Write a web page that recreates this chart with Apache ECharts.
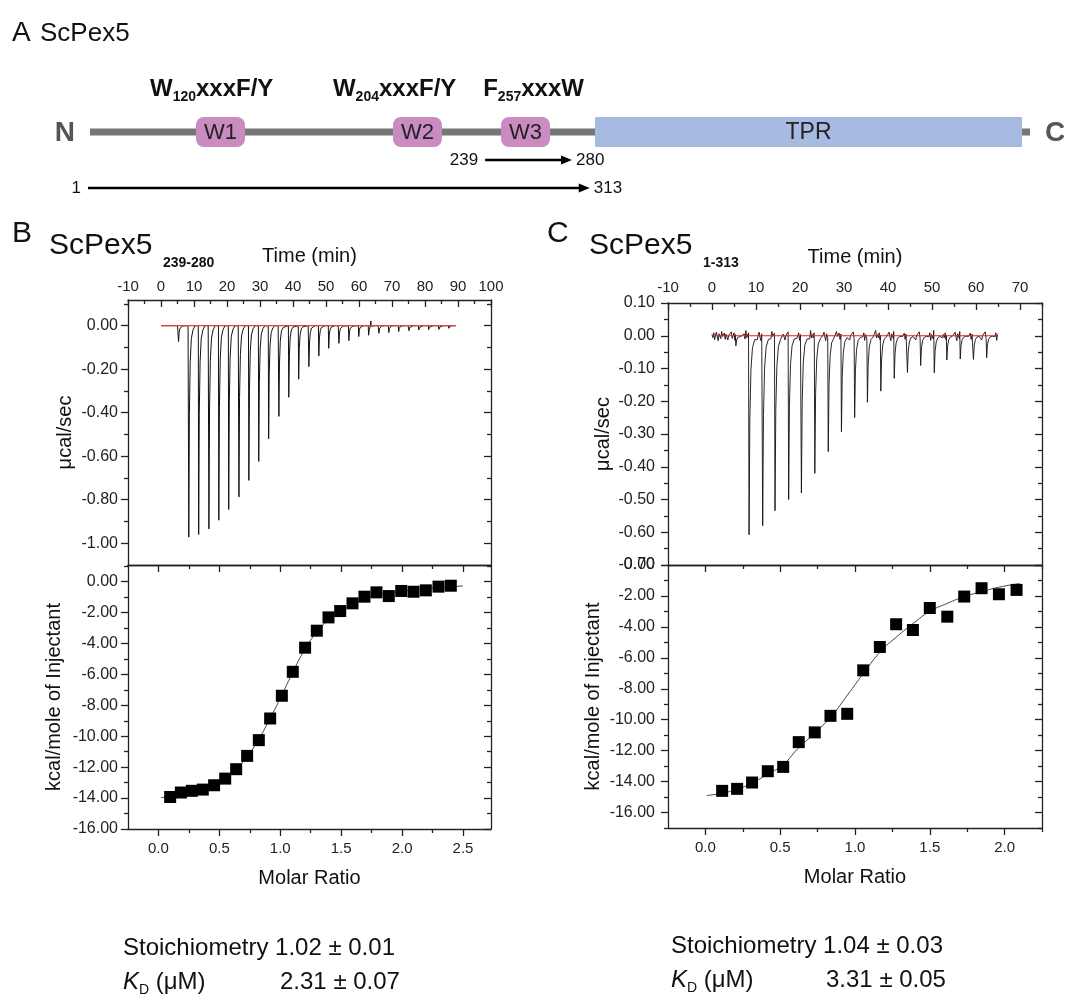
<!DOCTYPE html>
<html>
<head>
<meta charset="utf-8">
<script src="https://cdn.jsdelivr.net/npm/echarts@6/dist/echarts.min.js"></script>
<style>
html, body { margin: 0; padding: 0; background: #fff; }
#main { width: 1066px; height: 996px; }
</style>
</head>
<body>
<div id="main"></div>
<script>
// ---- panel A: schematic of ScPex5 (positions in % of the drawn chain) ----
var chainSpan = [1.04, 98.96];
var domainNames = ['W1', 'W2', 'W3', 'TPR'];
var domainStart = [12.08, 32.6, 43.85, 53.65];
var domainEnd = [17.19, 37.7, 48.96, 98.13];
var motifHead = ['W', 'W', 'F'];
var motifSub = ['120', '204', '257'];
var motifTail = ['xxxF/Y', 'xxxF/Y', 'xxxW'];
var motifAt = [7.29, 26.35, 42.0];
var fragFrom = [42.2, 0.83];
var fragTo = [51.25, 53.1];
var fragFromLabel = ['239', '1'];
var fragToLabel = ['280', '313'];

// ---- panel B: ScPex5 239-280 ----
var injTimeB = [5.2, 8.3, 11.3, 14.4, 17.4, 20.4, 23.5, 26.5, 29.5, 32.5, 35.6, 38.6, 41.6, 44.7,
  47.7, 50.7, 53.8, 56.8, 59.8, 62.8, 65.9, 68.9, 71.9, 75.0, 78.0, 81.0, 84.1, 87.1];
var injPeakB = [-0.073, -0.972, -0.960, -0.934, -0.894, -0.845, -0.787, -0.711, -0.624, -0.520, -0.417,
  -0.329, -0.246, -0.188, -0.139, -0.104, -0.081, -0.069, -0.050, -0.044, -0.035, -0.032, -0.027,
  -0.023, -0.020, -0.018, -0.017, -0.012];
var baselineB = [0, 89.4];
var blipB = [63.6, 0.022];
var ratioB = [0.096, 0.184, 0.274, 0.364, 0.457, 0.548, 0.638, 0.728, 0.824, 0.917, 1.013, 1.103, 1.204,
  1.300, 1.396, 1.492, 1.593, 1.691, 1.790, 1.891, 1.993, 2.094, 2.195, 2.299, 2.400];
var heatB = [-13.93, -13.64, -13.53, -13.45, -13.17, -12.74, -12.13, -11.27, -10.25, -8.85, -7.38, -5.83,
  -4.27, -3.17, -2.31, -1.90, -1.40, -0.97, -0.69, -0.93, -0.60, -0.65, -0.56, -0.32, -0.26];
var fitXB = [0.02, 0.1, 0.2, 0.3, 0.4, 0.5, 0.6, 0.7, 0.8, 0.9, 1.0, 1.1, 1.2, 1.3, 1.4, 1.5, 1.6, 1.7,
  1.8, 1.9, 2.0, 2.2, 2.5];
var fitYB = [-13.97, -13.88, -13.72, -13.5, -13.25, -12.95, -12.45, -11.6, -10.5, -9.1, -7.55, -5.9, -4.4,
  -3.25, -2.45, -1.9, -1.48, -1.1, -0.85, -0.72, -0.62, -0.46, -0.27];

// ---- panel C: ScPex5 1-313 ----
var injTimeC = [5.3, 8.3, 11.4, 14.2, 17.3, 20.2, 23.25, 26.3, 29.3, 32.3, 35.2, 38.25, 41.3, 44.3,
  47.3, 50.4, 53.25, 56.3, 59.3, 62.3];
var injPeakC = [-0.031, -0.608, -0.580, -0.534, -0.500, -0.480, -0.420, -0.354, -0.293, -0.250, -0.203,
  -0.169, -0.130, -0.112, -0.091, -0.113, -0.074, -0.071, -0.072, -0.067];
var baselineC = [0, 65];
var noiseC = [0.004, -0.006, 0.009, -0.012, 0.002, 0.011, -0.004, -0.015, 0.006, 0.003, -0.009, 0.013,
  -0.002, -0.007, 0.008, -0.011, 0.005, 0.010, -0.013, 0.001, 0.007, -0.005, 0.012, -0.008, -0.003,
  0.009, -0.014, 0.004, 0.006, -0.010, 0.016, -0.006];
var ratioC = [0.112, 0.212, 0.312, 0.417, 0.520, 0.624, 0.731, 0.836, 0.948, 1.055, 1.166, 1.275, 1.387,
  1.500, 1.617, 1.730, 1.846, 1.962, 2.080];
var heatC = [-14.60, -14.47, -14.06, -13.33, -13.05, -11.45, -10.82, -9.75, -9.62, -6.81, -5.30, -3.83,
  -4.20, -2.78, -3.34, -2.04, -1.50, -1.89, -1.61];
var fitXC = [0.01, 0.11, 0.21, 0.31, 0.42, 0.52, 0.62, 0.73, 0.84, 0.95, 1.06, 1.17, 1.28, 1.39, 1.5,
  1.62, 1.73, 1.85, 1.96, 2.1];
var fitYC = [-14.9, -14.75, -14.5, -14.1, -13.5, -12.9, -11.85, -10.87, -9.8, -8.4, -6.96, -5.6, -4.63,
  -3.77, -3.0, -2.47, -2.04, -1.72, -1.44, -1.2];

// ---- tick labels ----
var timeTicksB = [-10, 0, 10, 20, 30, 40, 50, 60, 70, 80, 90, 100];
var timeTicksC = [-10, 0, 10, 20, 30, 40, 50, 60, 70];
var powerTicksB = [0, -0.2, -0.4, -0.6, -0.8, -1.0];
var powerTicksC = [0.1, 0, -0.1, -0.2, -0.3, -0.4, -0.5, -0.6, -0.7];
var heatTicks = [0, -2, -4, -6, -8, -10, -12, -14, -16];
var ratioTicksB = [0, 0.5, 1.0, 1.5, 2.0, 2.5];
var ratioTicksC = [0, 0.5, 1.0, 1.5, 2.0];

var FONT = '"Liberation Sans", Arial, sans-serif';
var AX = '#222';

function mids(arr, step) {
  var out = [];
  arr.forEach(function (v) { out.push(+(v + step).toFixed(4)); });
  return out;
}
function zip(a, b) { return a.map(function (v, i) { return [v, b[i]]; }); }

// spike profile: minutes after injection, fraction of the peak depth
var spikeShape = [[0, 0], [0.12, 1], [0.3, 0.42], [0.55, 0.17], [0.9, 0.06], [1.4, 0.02], [2.0, 0]];
function buildTrace(t0, t1, times, peaks, noise, step) {
  var pts = [], n = 0, t = t0;
  function base() { return noise ? noise[n++ % noise.length] : 0; }
  for (var i = 0; i <= times.length; i++) {
    var next = i < times.length ? times[i] : t1;
    while (t < next) { pts.push([t, base()]); t += step; }
    if (i < times.length) {
      spikeShape.forEach(function (s) {
        pts.push([times[i] + s[0], peaks[i] * s[1] + (s[1] === 0 ? base() : 0)]);
      });
      t = times[i] + spikeShape[spikeShape.length - 1][0] + step;
    }
  }
  pts.push([t1, base()]);
  return pts;
}

var traceB = buildTrace(baselineB[0], baselineB[1], injTimeB, injPeakB, null, 1);
traceB.push([blipB[0] - 0.1, 0], blipB, [blipB[0] + 0.3, 0]);
traceB.sort(function (a, b) { return a[0] - b[0]; });
var traceC = buildTrace(baselineC[0], baselineC[1], injTimeC, injPeakC, noiseC, 0.2);

var xAxes = [], yAxes = [];
function addAxis(list, grid, pos, range, o) {
  o = o || {};
  var common = {
    type: 'value', gridIndex: grid, position: pos, min: range[0], max: range[1],
    splitLine: { show: false }, axisPointer: { show: false }
  };
  var idx = list.length;
  list.push(Object.assign({}, common, {
    axisLine: { show: true, onZero: false, lineStyle: { color: AX, width: 1.3 } },
    axisTick: o.major ? { show: true, inside: !!o.inside, length: 7, customValues: o.major,
      lineStyle: { color: AX, width: 1.3 } } : { show: false },
    axisLabel: o.labels ? { show: true, customValues: o.labels, margin: o.margin, formatter: o.fmt,
      fontSize: o.size || 15, fontFamily: FONT, color: AX, showMinLabel: true, showMaxLabel: true } : { show: false },
    name: o.name || '', nameLocation: 'middle', nameGap: o.nameGap || 0,
    nameTextStyle: { fontSize: 20, fontFamily: FONT, color: '#111' }
  }));
  if (o.minor) {
    list.push(Object.assign({}, common, {
      axisLine: { show: false, onZero: false },
      axisLabel: { show: false },
      axisTick: { show: true, inside: !!o.inside, length: 4, customValues: o.minor,
        lineStyle: { color: AX, width: 1.3 } }
    }));
  }
  return idx;
}
var f0 = function (v) { return String(v); };
var f1 = function (v) { return v.toFixed(1); };
var f2 = function (v) { return v.toFixed(2); };

// B top: thermogram
var rBt = { x: [-10, 100], y: [-1.1, 0.118] };
var bxT = addAxis(xAxes, 0, 'top', rBt.x, { labels: timeTicksB, major: timeTicksB, minor: mids(timeTicksB, 5),
  inside: true, margin: 6, fmt: f0, name: 'Time (min)', nameGap: 34 });
addAxis(xAxes, 0, 'bottom', rBt.x, {});
var byT = addAxis(yAxes, 0, 'left', rBt.y, { labels: powerTicksB, major: powerTicksB, minor: mids(powerTicksB, 0.1),
  margin: 10, fmt: f2, size: 16, name: 'μcal/sec', nameGap: 53 });
addAxis(yAxes, 0, 'right', rBt.y, { major: powerTicksB, minor: mids(powerTicksB, 0.1), inside: true });

// B bottom: isotherm
var rBb = { x: [-0.25, 2.73], y: [-16, 1.08] };
addAxis(xAxes, 1, 'top', rBb.x, { major: ratioTicksB, minor: mids(ratioTicksB, 0.25), inside: true });
var bxB = addAxis(xAxes, 1, 'bottom', rBb.x, { labels: ratioTicksB, major: ratioTicksB, minor: mids(ratioTicksB, 0.25),
  margin: 12, fmt: f1, name: 'Molar Ratio', nameGap: 39 });
var byB = addAxis(yAxes, 1, 'left', rBb.y, { labels: heatTicks, major: heatTicks, minor: mids(heatTicks, 1),
  margin: 10, fmt: f2, size: 16, name: 'kcal/mole of Injectant', nameGap: 64 });
addAxis(yAxes, 1, 'right', rBb.y, { major: heatTicks, minor: mids(heatTicks, 1), inside: true });

// C top: thermogram
var rCt = { x: [-10, 75], y: [-0.7, 0.1] };
var cxT = addAxis(xAxes, 2, 'top', rCt.x, { labels: timeTicksC, major: timeTicksC, minor: mids(timeTicksC, 5),
  inside: true, margin: 8, fmt: f0, name: 'Time (min)', nameGap: 36 });
addAxis(xAxes, 2, 'bottom', rCt.x, {});
var cyT = addAxis(yAxes, 2, 'left', rCt.y, { labels: powerTicksC, major: powerTicksC, minor: mids(powerTicksC, -0.05),
  margin: 13, fmt: f2, size: 16, name: 'μcal/sec', nameGap: 55 });
addAxis(yAxes, 2, 'right', rCt.y, { major: powerTicksC, minor: mids(powerTicksC, -0.05), inside: true });

// C bottom: isotherm
var rCb = { x: [-0.25, 2.25], y: [-17, 0] };
addAxis(xAxes, 3, 'top', rCb.x, { major: ratioTicksC, minor: mids(ratioTicksC, 0.25), inside: true });
var cxB = addAxis(xAxes, 3, 'bottom', rCb.x, { labels: ratioTicksC, major: ratioTicksC, minor: mids(ratioTicksC, 0.25),
  margin: 12, fmt: f1, name: 'Molar Ratio', nameGap: 39 });
var cyB = addAxis(yAxes, 3, 'left', rCb.y, { labels: heatTicks, major: heatTicks, minor: mids(heatTicks, -1),
  margin: 13, fmt: f2, size: 16, name: 'kcal/mole of Injectant', nameGap: 65 });
addAxis(yAxes, 3, 'right', rCb.y, { major: heatTicks, minor: mids(heatTicks, -1), inside: true });

// panel A frame (hidden axes)
var axA = xAxes.length;
xAxes.push({ type: 'value', gridIndex: 4, min: 0, max: 100, show: false });
var ayA = yAxes.length;
yAxes.push({ type: 'value', gridIndex: 4, min: 60, max: 200, inverse: true, show: false });

var ROW_LABEL = 89, ROW_CHAIN = 132, ROW_FRAG = [160, 188];

function txt(x, y, text, size, extra) {
  return Object.assign({
    type: 'text', x: x, y: y,
    style: Object.assign({ text: text, fontSize: size, fontFamily: FONT, fill: '#111',
      align: 'left', verticalAlign: 'middle', textAlign: 'left', textVerticalAlign: 'middle' }, extra || {})
  });
}
function kdText(x, y) {
  return {
    type: 'text', x: x, y: y,
    style: {
      text: '{k|K}{d|D}{n| (μM)}', align: 'left', verticalAlign: 'middle',
      textAlign: 'left', textVerticalAlign: 'middle',
      rich: {
        k: { fontSize: 24, fontStyle: 'italic', fontFamily: FONT, fill: '#111', lineHeight: 28 },
        d: { fontSize: 14, fontFamily: FONT, fill: '#111', lineHeight: 14, padding: [16, 0, 0, 0] },
        n: { fontSize: 24, fontFamily: FONT, fill: '#111', lineHeight: 28 }
      }
    }
  };
}

var series = [
  { type: 'line', xAxisIndex: bxT, yAxisIndex: byT, data: traceB, symbol: 'none', silent: true,
    lineStyle: { color: '#111', width: 1 }, z: 2 },
  { type: 'line', xAxisIndex: bxT, yAxisIndex: byT, data: [[baselineB[0], 0], [baselineB[1], 0]],
    symbol: 'none', silent: true, lineStyle: { color: '#e0413a', width: 1.2 }, z: 3 },
  { type: 'line', xAxisIndex: bxB, yAxisIndex: byB, data: zip(fitXB, fitYB), smooth: true, symbol: 'none',
    silent: true, lineStyle: { color: '#444', width: 1 }, z: 3 },
  { type: 'scatter', xAxisIndex: bxB, yAxisIndex: byB, data: zip(ratioB, heatB), symbol: 'rect',
    symbolSize: 12, itemStyle: { color: '#000', opacity: 1 }, z: 4 },
  { type: 'line', xAxisIndex: cxT, yAxisIndex: cyT, data: traceC, symbol: 'none', silent: true,
    lineStyle: { color: '#111', width: 0.9 }, z: 2 },
  { type: 'line', xAxisIndex: cxT, yAxisIndex: cyT, data: [[baselineC[0], 0], [baselineC[1], 0]],
    symbol: 'none', silent: true, lineStyle: { color: '#e0201c', width: 1.2 }, z: 3 },
  { type: 'line', xAxisIndex: cxB, yAxisIndex: cyB, data: zip(fitXC, fitYC), smooth: true, symbol: 'none',
    silent: true, lineStyle: { color: '#444', width: 1 }, z: 3 },
  { type: 'scatter', xAxisIndex: cxB, yAxisIndex: cyB, data: zip(ratioC, heatC), symbol: 'rect',
    symbolSize: 12, itemStyle: { color: '#000', opacity: 1 }, z: 4 },

  // panel A: chain with N / C ends
  { type: 'custom', xAxisIndex: axA, yAxisIndex: ayA, clip: false, silent: true,
    data: [[chainSpan[0], chainSpan[1]]],
    renderItem: function (p, api) {
      var a = api.coord([api.value(0), ROW_CHAIN]), b = api.coord([api.value(1), ROW_CHAIN]);
      return { type: 'group', children: [
        { type: 'rect', shape: { x: a[0], y: a[1] - 3.5, width: b[0] - a[0], height: 7 }, style: { fill: '#767676' } },
        txt(a[0] - 15, a[1] + 1, 'N', 28, { fontWeight: 'bold', fill: '#555', align: 'right', textAlign: 'right' }),
        txt(b[0] + 15, a[1] + 1, 'C', 28, { fontWeight: 'bold', fill: '#555' })
      ] };
    } },
  // panel A: domains
  { type: 'custom', xAxisIndex: axA, yAxisIndex: ayA, clip: false, silent: true, z: 3,
    data: domainNames.map(function (n, i) { return [domainStart[i], domainEnd[i], i]; }),
    renderItem: function (p, api) {
      var i = api.value(2);
      var a = api.coord([api.value(0), ROW_CHAIN]), b = api.coord([api.value(1), ROW_CHAIN]);
      var isTpr = domainNames[i] === 'TPR';
      return { type: 'group', children: [
        { type: 'rect', shape: { x: a[0], y: a[1] - 15, width: b[0] - a[0], height: 30, r: isTpr ? 0 : 8 },
          style: { fill: isTpr ? '#a7bbe2' : '#c98bc0' } },
        txt((a[0] + b[0]) / 2, a[1] + 1, domainNames[i], isTpr ? 23 : 22,
          { fill: '#222', align: 'center', textAlign: 'center' })
      ] };
    } },
  // panel A: motif labels
  { type: 'custom', xAxisIndex: axA, yAxisIndex: ayA, clip: false, silent: true,
    data: motifAt.map(function (x, i) { return [x, i]; }),
    renderItem: function (p, api) {
      var i = api.value(1), c = api.coord([api.value(0), ROW_LABEL]);
      return {
        type: 'text', x: c[0], y: c[1],
        style: {
          text: '{m|' + motifHead[i] + '}{s|' + motifSub[i] + '}{m|' + motifTail[i] + '}',
          align: 'left', verticalAlign: 'middle', textAlign: 'left', textVerticalAlign: 'middle',
          rich: {
            m: { fontSize: 24, fontWeight: 'bold', fontFamily: FONT, fill: '#111', lineHeight: 28 },
            s: { fontSize: 14, fontWeight: 'bold', fontFamily: FONT, fill: '#111', lineHeight: 14, padding: [16, 0, 0, 0] }
          }
        }
      };
    } },
  // panel A: constructs
  { type: 'custom', xAxisIndex: axA, yAxisIndex: ayA, clip: false, silent: true,
    data: fragFrom.map(function (v, i) { return [v, fragTo[i], i]; }),
    renderItem: function (p, api) {
      var i = api.value(2);
      var a = api.coord([api.value(0), ROW_FRAG[i]]), b = api.coord([api.value(1), ROW_FRAG[i]]);
      return { type: 'group', children: [
        { type: 'line', shape: { x1: a[0], y1: a[1], x2: b[0] - 9, y2: b[1] }, style: { stroke: '#000', lineWidth: 2.4 } },
        { type: 'polygon', shape: { points: [[b[0], b[1]], [b[0] - 11, b[1] - 4.5], [b[0] - 11, b[1] + 4.5]] },
          style: { fill: '#000' } },
        txt(a[0] - 7, a[1], fragFromLabel[i], 17, { align: 'right', textAlign: 'right' }),
        txt(b[0] + 4, b[1], fragToLabel[i], 17)
      ] };
    } }
];

var graphics = [
  txt(12, 33, 'A', 28),
  txt(40, 34, 'ScPex5', 26),
  txt(12, 234, 'B', 30),
  txt(49, 246, 'ScPex5', 30),
  txt(163, 263, '239-280', 14, { fontWeight: 'bold' }),
  txt(547, 234, 'C', 30),
  txt(589, 246, 'ScPex5', 30),
  txt(703, 263, '1-313', 14, { fontWeight: 'bold' }),
  txt(123, 948, 'Stoichiometry 1.02 ± 0.01', 24),
  kdText(123, 982),
  txt(280, 982, '2.31 ± 0.07', 24),
  txt(671, 946, 'Stoichiometry 1.04 ± 0.03', 24),
  kdText(671, 980),
  txt(826, 980, '3.31 ± 0.05', 24)
];

var chart = echarts.init(document.getElementById('main'));
chart.setOption({
  animation: false,
  backgroundColor: '#fff',
  grid: [
    { left: 128, top: 300, width: 363, height: 265 },
    { left: 128, top: 565, width: 363, height: 264 },
    { left: 668, top: 303, width: 374, height: 262 },
    { left: 668, top: 565, width: 374, height: 263 },
    { left: 80, top: 60, width: 960, height: 140 }
  ],
  xAxis: xAxes,
  yAxis: yAxes,
  series: series,
  graphic: graphics
});
</script>
</body>
</html>
